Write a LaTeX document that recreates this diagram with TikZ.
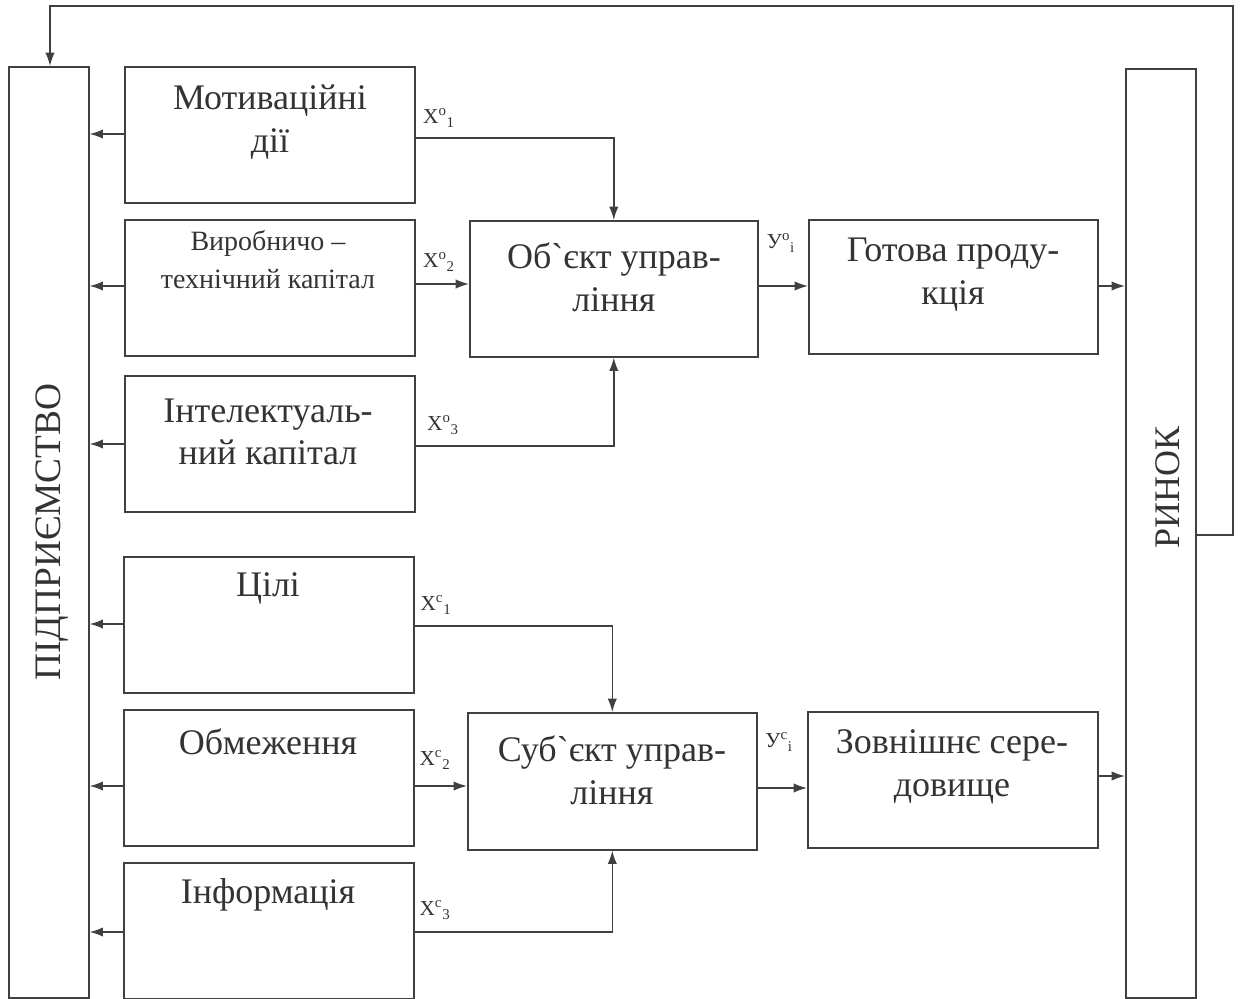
\documentclass[tikz,border=0pt]{standalone}
\usepackage{fontspec}
\setmainfont{Liberation Serif}
\newfontfamily\plainserif[Ligatures=ResetAll]{Liberation Serif}
\usetikzlibrary{arrows.meta}
\newcommand{\bq}{{\plainserif`}}
\begin{document}
\begin{tikzpicture}[x=0.75pt,y=-0.75pt,
  box/.style={draw=black!75, line width=1.2pt, rectangle, inner sep=0pt},
  txt/.style={font=\fontsize{27}{32}\selectfont, align=center, inner sep=0pt, text=black!80},
  stxt/.style={font=\fontsize{21}{28.5}\selectfont, align=center, inner sep=0pt, text=black!80},
  lbl/.style={font=\fontsize{16}{18}\selectfont, inner sep=0pt, text=black!80},
  con/.style={draw=black!75, line width=1.1pt, -{Latex[length=10pt,width=7pt]}},
  ln/.style={draw=black!75, line width=1.1pt}]
\useasboundingbox (0,0) rectangle (1242,999);
% big side boxes
\node[box, minimum width=80*0.75pt, minimum height=931*0.75pt, anchor=north west] (firm) at (8,66) {};
\node[box, minimum width=70*0.75pt, minimum height=929*0.75pt, anchor=north west] (market) at (1125,68) {};
\node[font=\fontsize{28}{32}\selectfont, rotate=90, text=black!80, inner sep=0pt] (firmtxt) at (52,532) {ПІДПРИЄМСТВО};
\node[font=\fontsize{27}{32}\selectfont, rotate=90, text=black!80, inner sep=0pt] (markettxt) at (1168,487) {РИНОК};
% left column boxes
\node[box, minimum width=290*0.75pt, minimum height=136*0.75pt, anchor=north west] (b1) at (124,66) {};
\node[box, minimum width=290*0.75pt, minimum height=136*0.75pt, anchor=north west] (b2) at (124,219) {};
\node[box, minimum width=290*0.75pt, minimum height=136*0.75pt, anchor=north west] (b3) at (124,375) {};
\node[box, minimum width=290*0.75pt, minimum height=136*0.75pt, anchor=north west] (b4) at (123,556) {};
\node[box, minimum width=290*0.75pt, minimum height=136*0.75pt, anchor=north west] (b5) at (123,709) {};
\node[box, minimum width=290*0.75pt, minimum height=136*0.75pt, anchor=north west] (b6) at (123,862) {};
\node[txt] (t1) at (270,122) {Мотиваційні\\дії};
\node[stxt] (t2) at (268,260) {Виробничо –\\технічний капітал};
\node[txt] (t3) at (268,432) {Інтелектуаль-\\ний капітал};
\node[txt] (t4) at (268,588) {Цілі};
\node[txt] (t5) at (268,742) {Обмеження};
\node[txt] (t6) at (268,895) {Інформація};
% center boxes
\node[box, minimum width=288*0.75pt, minimum height=136*0.75pt, anchor=north west] (obj) at (469,220) {};
\node[box, minimum width=289*0.75pt, minimum height=137*0.75pt, anchor=north west] (subj) at (467,712) {};
\node[txt] (tobj) at (614,277) {Об\bq єкт управ-\\ління};
\node[txt] (tsubj) at (612,770) {Суб\bq єкт управ-\\ління};
% right boxes
\node[box, minimum width=289*0.75pt, minimum height=134*0.75pt, anchor=north west] (prod) at (808,219) {};
\node[box, minimum width=290*0.75pt, minimum height=136*0.75pt, anchor=north west] (env) at (807,711) {};
\node[txt] (tprod) at (953,275) {Готова проду-\\кція};
\node[txt] (tenv) at (952,767) {Зовнішнє сере-\\довище};
% arrows to firm
\foreach \b/\y in {b1/134,b2/286,b3/444,b4/624,b5/786,b6/932}{
  \draw[con] (\b.west |- 0,\y) -- (firm.east |- 0,\y);
}
% upper inputs
\draw[con] (b1.east |- 0,138) -| (obj.north);
\draw[con] (b2.east |- 0,284) -- (obj.west |- 0,284);
\draw[con] (b3.east |- 0,446) -| (obj.south);
\draw[con] (obj.east |- 0,286) -- (prod.west |- 0,286);
\draw[con] (prod.east |- 0,286) -- (market.west |- 0,286);
% lower inputs
\draw[con] (b4.east |- 0,626) -| (subj.north);
\draw[con] (b5.east |- 0,786) -- (subj.west |- 0,786);
\draw[con] (b6.east |- 0,932) -| (subj.south);
\draw[con] (subj.east |- 0,788) -- (env.west |- 0,788);
\draw[con] (env.east |- 0,776) -- (market.west |- 0,776);
% feedback
\coordinate (fa) at (1233,535);
\coordinate (fb) at (1233,6);
\coordinate (fc) at (50,6);
\draw[con] (market.east |- fa) -- (fa) -- (fb) -- (fc) -- (firm.north -| fc);
% labels
\node[lbl] (x1) at (439,118) {X\textsuperscript{o}\textsubscript{1}};
\node[lbl] (x2) at (439,262) {X\textsuperscript{o}\textsubscript{2}};
\node[lbl] (x3) at (443,425) {X\textsuperscript{o}\textsubscript{3}};
\node[lbl] (y1) at (781,243) {У\textsuperscript{o}\textsubscript{i}};
\node[lbl] (x4) at (436,605) {X\textsuperscript{c}\textsubscript{1}};
\node[lbl] (x5) at (435,760) {X\textsuperscript{c}\textsubscript{2}};
\node[lbl] (x6) at (435,910) {X\textsuperscript{c}\textsubscript{3}};
\node[lbl] (y2) at (779,742) {У\textsuperscript{c}\textsubscript{i}};
\end{tikzpicture}
\end{document}
